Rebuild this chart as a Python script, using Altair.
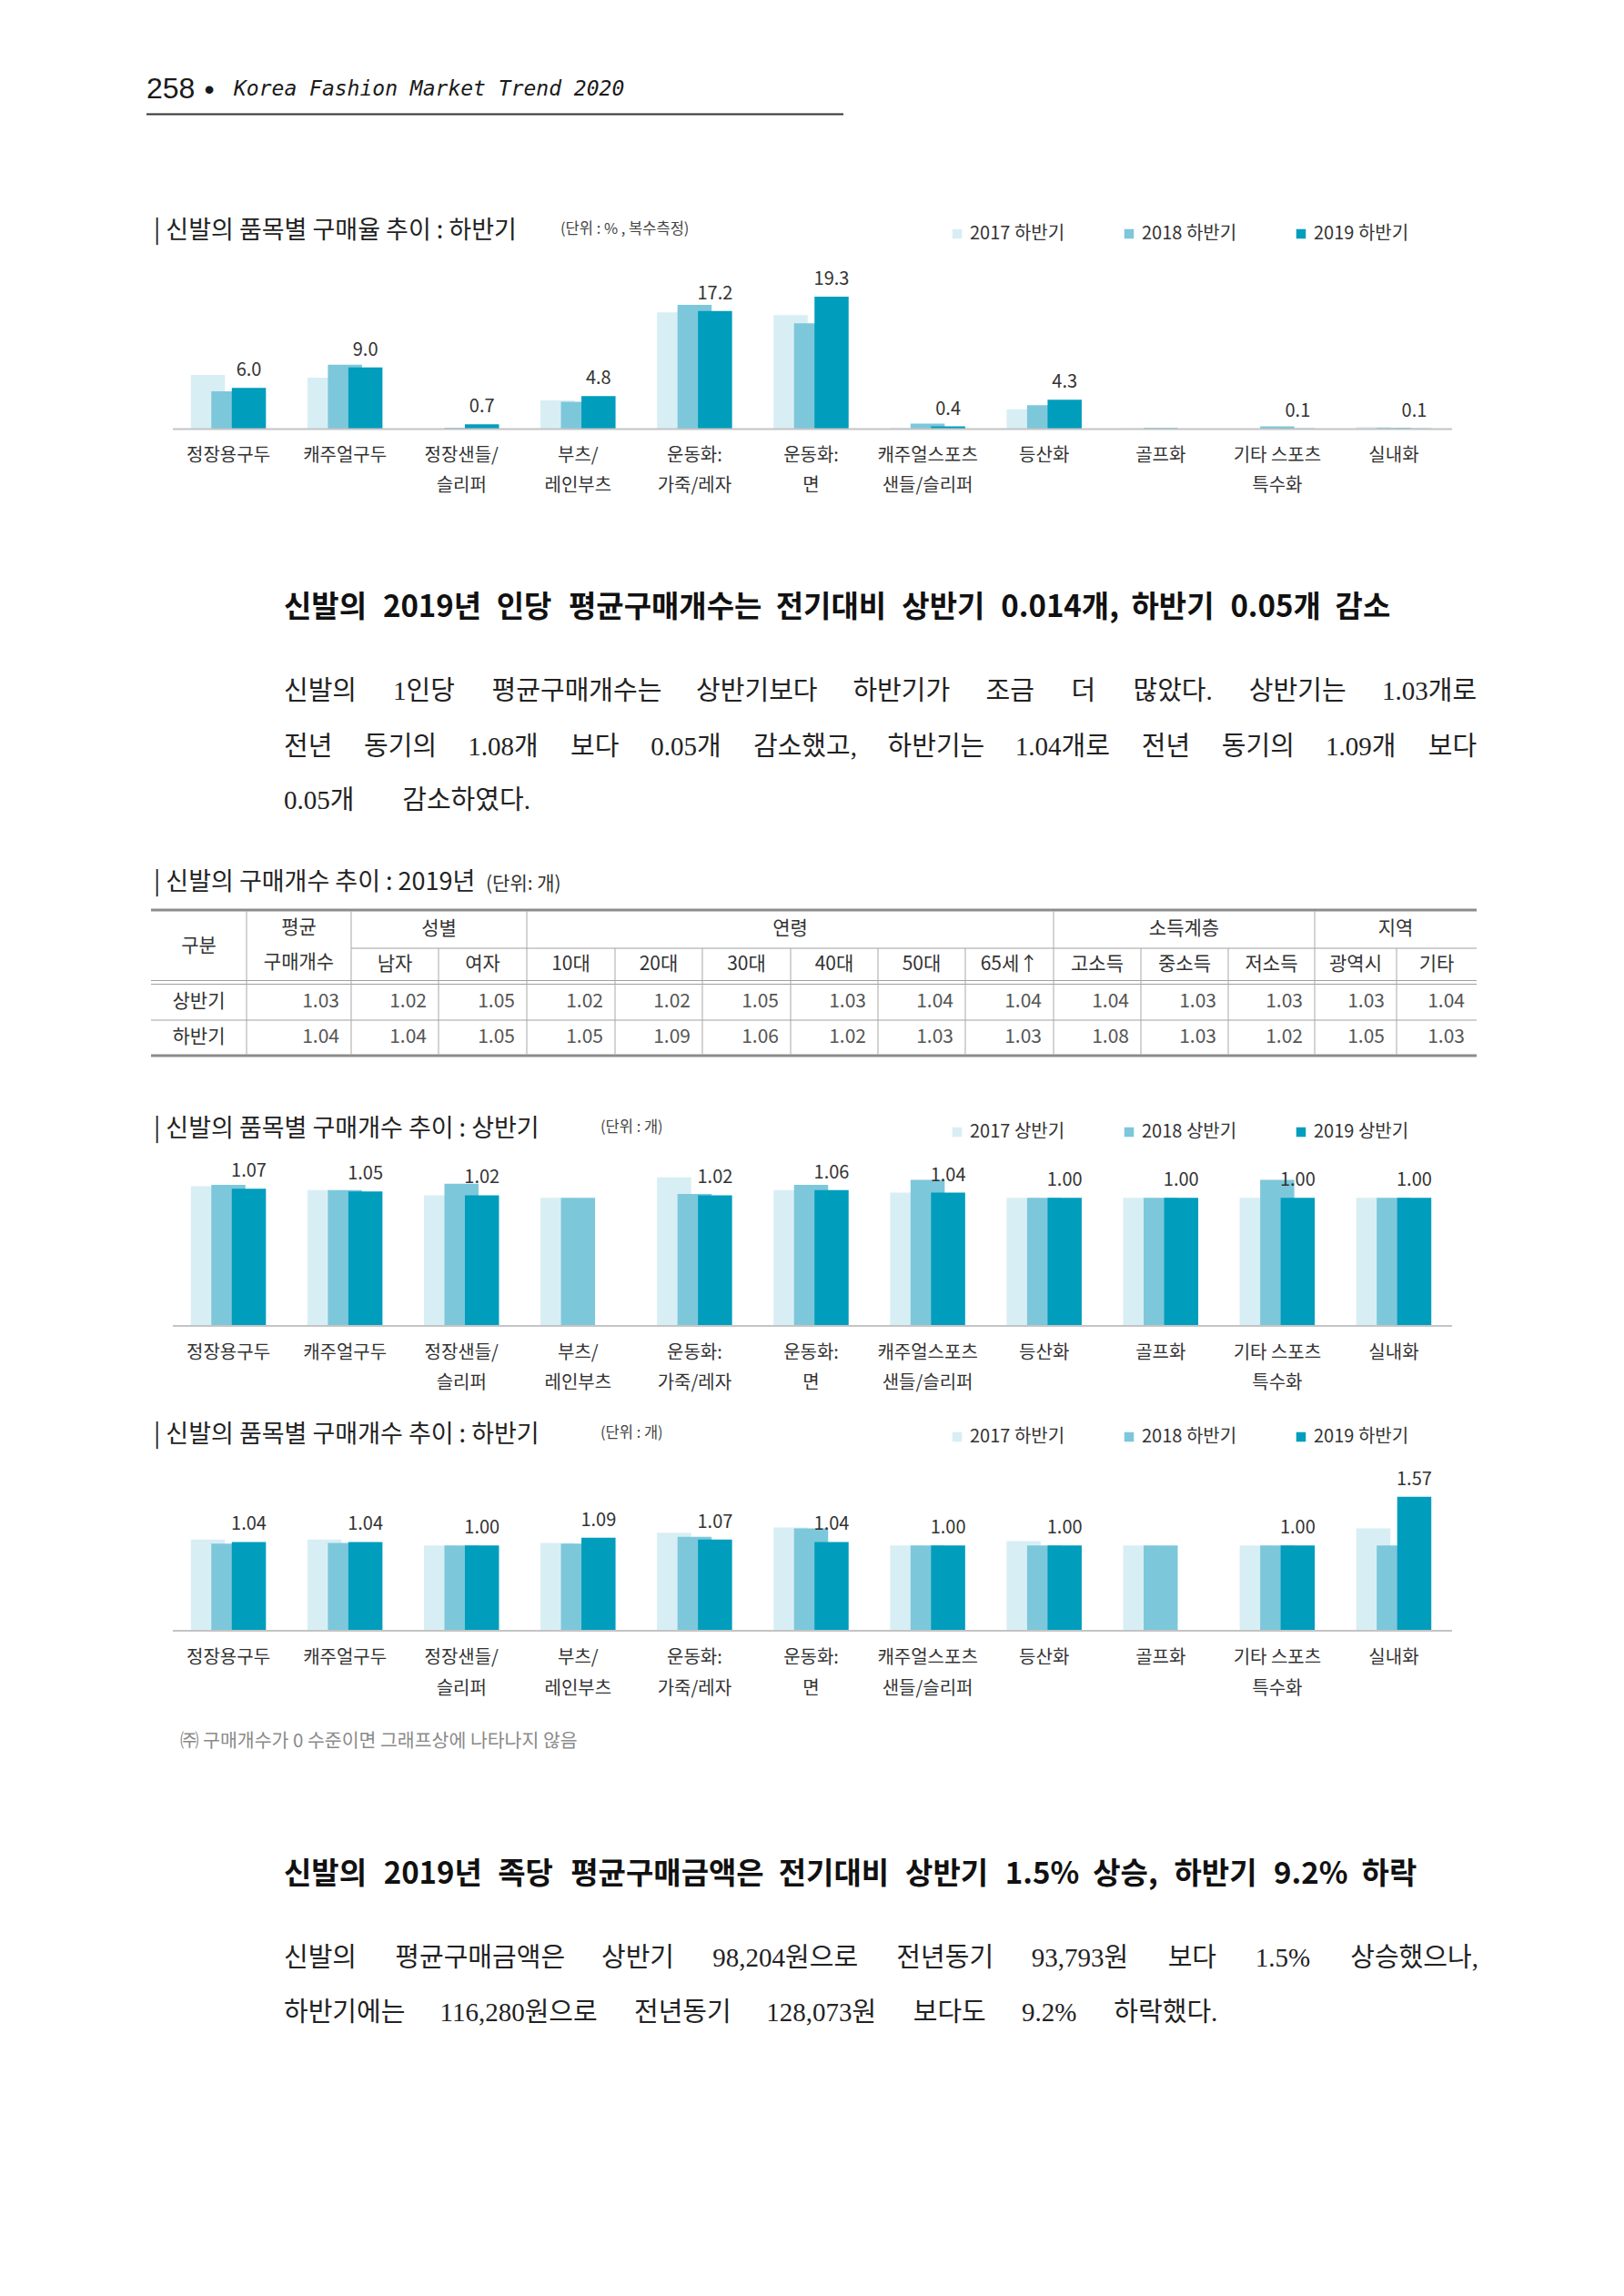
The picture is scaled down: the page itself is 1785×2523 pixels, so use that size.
import altair as alt
import pandas as pd

# ---------------- content ----------------
header_page = "258"
header_title = "Korea Fashion Market Trend 2020"

cat_line1 = ["정장용구두", "캐주얼구두", "정장샌들/", "부츠/", "운동화:", "운동화:",
             "캐주얼스포츠", "등산화", "골프화", "기타 스포츠", "실내화"]
cat_line2 = ["", "", "슬리퍼", "레인부츠", "가죽/레자", "면",
             "샌들/슬리퍼", "", "", "특수화", ""]
years = ["2017", "2018", "2019"]

# purchase rate (%), second half
rate_h2_2017 = [7.9, 7.5, 0.0, 4.2, 17.0, 16.6, 0.2, 2.9, 0.1, 0.0, 0.3]
rate_h2_2018 = [5.5, 9.4, 0.2, 4.0, 18.1, 15.4, 0.8, 3.5, 0.2, 0.4, 0.2]
rate_h2_2019 = [6.0, 9.0, 0.7, 4.8, 17.2, 19.3, 0.4, 4.3, 0.0, 0.1, 0.1]

# items bought per person, first half
cnt_h1_2017 = [1.09, 1.06, 1.02, 1.00, 1.16, 1.06, 1.04, 1.00, 1.00, 1.00, 1.00]
cnt_h1_2018 = [1.10, 1.06, 1.11, 1.00, 1.03, 1.10, 1.14, 1.00, 1.00, 1.14, 1.00]
cnt_h1_2019 = [1.07, 1.05, 1.02, 0.00, 1.02, 1.06, 1.04, 1.00, 1.00, 1.00, 1.00]

# items bought per person, second half
cnt_h2_2017 = [1.07, 1.07, 1.00, 1.03, 1.15, 1.21, 1.00, 1.05, 1.00, 1.00, 1.20]
cnt_h2_2018 = [1.02, 1.03, 1.00, 1.02, 1.10, 1.20, 1.00, 1.00, 1.00, 1.00, 1.00]
cnt_h2_2019 = [1.04, 1.04, 1.00, 1.09, 1.07, 1.04, 1.00, 1.00, 0.00, 1.00, 1.57]

# 2019 table
tbl_title = "| 신발의 구매개수 추이 : 2019년"
tbl_unit = "(단위: 개)"
tbl_groups = ["성별", "연령", "소득계층", "지역"]
tbl_group_span = [2, 6, 3, 2]
tbl_sub = ["남자", "여자", "10대", "20대", "30대", "40대", "50대", "65세↑",
           "고소득", "중소득", "저소득", "광역시", "기타"]
tbl_rows = ["상반기", "하반기"]
tbl_avg = [1.03, 1.04]
tbl_h1 = [1.02, 1.05, 1.02, 1.02, 1.05, 1.03, 1.04, 1.04, 1.04, 1.03, 1.03, 1.03, 1.04]
tbl_h2 = [1.04, 1.05, 1.05, 1.09, 1.06, 1.02, 1.03, 1.03, 1.08, 1.03, 1.02, 1.05, 1.03]

heading_1 = "신발의 2019년 인당 평균구매개수는 전기대비 상반기 0.014개, 하반기 0.05개 감소"
para_1 = ["신발의 1인당 평균구매개수는 상반기보다 하반기가 조금 더 많았다. 상반기는 1.03개로",
          "전년 동기의 1.08개 보다 0.05개 감소했고, 하반기는 1.04개로 전년 동기의 1.09개 보다",
          "0.05개 감소하였다."]
heading_2 = "신발의 2019년 족당 평균구매금액은 전기대비 상반기 1.5% 상승, 하반기 9.2% 하락"
para_2 = ["신발의 평균구매금액은 상반기 98,204원으로 전년동기 93,793원 보다 1.5% 상승했으나,",
          "하반기에는 116,280원으로 전년동기 128,073원 보다도 9.2% 하락했다."]
footnote = "㈜ 구매개수가 0 수준이면 그래프상에 나타나지 않음"

# ---------------- styling / layout ----------------
FONT = "Noto Sans CJK KR"
SERIF = "Liberation Serif, Noto Sans CJK KR"
PAGE_W, PAGE_H = 1785, 2523
SERIES_COLORS = ["#d8eef5", "#7dc7db", "#009dbd"]
BAND_X0, BAND_X1 = 187, 1596
BAR_W, BAR_SHIFT = 37.5, 22.5
STEP = (BAND_X1 - BAND_X0) / len(cat_line1)
OFFSET_RANGE = [STEP / 2 - 1.5 * BAR_SHIFT, STEP / 2 + 1.5 * BAR_SHIFT]

HEAD_SIZE = 33
BODY_SIZE = 29
TITLE_SIZE = 27

panels = [
    dict(title="| 신발의 품목별 구매율 추이 : 하반기", unit="(단위 : % , 복수측정)", half="하반기",
         values=[rate_h2_2017, rate_h2_2018, rate_h2_2019], fmt=".1f", dmax=20,
         title_y=254, unit_x=616, legend_cy=257, base=471.6, ppu=7.55, lab1=500.6, lab2=534.4),
    dict(title="| 신발의 품목별 구매개수 추이 : 상반기", unit="(단위 : 개)", half="상반기",
         values=[cnt_h1_2017, cnt_h1_2018, cnt_h1_2019], fmt=".2f", dmax=1.2,
         title_y=1241, unit_x=660, legend_cy=1244, base=1457, ppu=140.8, lab1=1487, lab2=1520),
    dict(title="| 신발의 품목별 구매개수 추이 : 하반기", unit="(단위 : 개)", half="하반기",
         values=[cnt_h2_2017, cnt_h2_2018, cnt_h2_2019], fmt=".2f", dmax=1.7,
         title_y=1577, unit_x=660, legend_cy=1579, base=1792, ppu=93.8, lab1=1822, lab2=1856),
]

COL_EDGES = [166, 271, 386, 482, 579, 676, 772, 869, 965, 1061, 1158, 1254, 1350, 1445, 1535, 1623]

# approximate advance widths (in em) used to spread words across a line
HANGUL_EM = 0.9
LATIN_EM = {
    "serif": {"digit": 0.5, ".": 0.25, ",": 0.25, "%": 0.833, "other": 0.5},
    "sans_bold": {"digit": 0.57, ".": 0.28, ",": 0.28, "%": 0.88, "other": 0.55},
}


def glyph_em(ch, latin):
    if "\uac00" <= ch <= "\ud7a3":
        return HANGUL_EM
    t = LATIN_EM[latin]
    if ch.isdigit():
        return t["digit"]
    return t.get(ch, t["other"])


def justify(line, left, right, y, size, latin):
    """Spread the words of one line between left and right."""
    words = line.split(" ")
    widths = [sum(glyph_em(c, latin) for c in w) * size for w in words]
    gap = (right - left - sum(widths)) / max(len(words) - 1, 1)
    rows, x = [], left
    for w, wd in zip(words, widths):
        rows.append({"text": w, "x": x, "y": y})
        x += wd + gap
    return rows


def text_layer(rows, size, font=FONT, weight="normal", color="#222222",
               align="left", style="normal", baseline="middle"):
    return alt.Chart(pd.DataFrame(rows)).mark_text(
        font=font, fontSize=size, fontWeight=weight, color=color,
        align=align, baseline=baseline, fontStyle=style,
    ).encode(
        x=alt.X("x:Q", scale=None, axis=None),
        y=alt.Y("y:Q", scale=None, axis=None),
        text="text:N",
    )


def bar_panel(p):
    series = [f"{y} {p['half']}" for y in years]
    keys = [f"{a}|{b}" for a, b in zip(cat_line1, cat_line2)]
    rows = []
    for s, vals in zip(series, p["values"]):
        for k, v in zip(keys, vals):
            rows.append({"cat": k, "series": s, "value": v})
    df = pd.DataFrame(rows)

    x_enc = alt.X("cat:N", sort=keys, axis=None,
                  scale=alt.Scale(domain=keys, range=[BAND_X0, BAND_X1],
                                  paddingInner=0, paddingOuter=0))
    xo_enc = alt.XOffset("series:N", sort=series,
                         scale=alt.Scale(domain=series, range=OFFSET_RANGE,
                                         paddingInner=0, paddingOuter=0))
    yscale = alt.Scale(domain=[0, p["dmax"]], nice=False, zero=True,
                       range=[p["base"], p["base"] - p["dmax"] * p["ppu"]])
    color_enc = alt.Color(
        "series:N", sort=series,
        scale=alt.Scale(domain=series, range=SERIES_COLORS),
        legend=alt.Legend(orient="none", legendX=1042, legendY=p["legend_cy"] - 10,
                          direction="horizontal", title=None, symbolType="square",
                          symbolSize=110, symbolStrokeWidth=0, labelFont=FONT,
                          labelFontSize=20, labelColor="#333333", labelOffset=4,
                          columnPadding=60, padding=0),
    )

    bars = alt.Chart(df).mark_bar(width=BAR_W).encode(
        x=x_enc, xOffset=xo_enc, y=alt.Y("value:Q", scale=yscale, axis=None), color=color_enc)

    values = alt.Chart(df).transform_filter(
        (alt.datum.series == series[2]) & (alt.datum.value > 0)
    ).mark_text(font=FONT, fontSize=20, color="#333333", baseline="alphabetic", dy=-13).encode(
        x=x_enc, xOffset=xo_enc, y=alt.Y("value:Q", scale=yscale, axis=None),
        text=alt.Text("value:Q", format=p["fmt"]))

    cat_df = pd.DataFrame({"cat": keys, "l1": cat_line1, "l2": cat_line2})
    lab1 = alt.Chart(cat_df).mark_text(font=FONT, fontSize=20, color="#333333",
                                       baseline="middle").encode(
        x=x_enc, y=alt.value(p["lab1"]), text="l1:N")
    lab2 = alt.Chart(cat_df).mark_text(font=FONT, fontSize=20, color="#333333",
                                       baseline="middle").encode(
        x=x_enc, y=alt.value(p["lab2"]), text="l2:N")

    base_rule = alt.Chart(pd.DataFrame({"zero": [0]})).mark_rule(
        color="#c4c4c4", strokeWidth=2).encode(
        x=alt.value(BAND_X0 + 3), x2=alt.value(BAND_X1),
        y=alt.Y("zero:Q", scale=yscale, axis=None))

    return alt.layer(bars, values, lab1, lab2, base_rule)


layers = []

# page header
layers.append(text_layer([{"text": header_page, "x": 161, "y": 98}], 32,
                         font="Liberation Sans", color="#1a1a1a"))
layers.append(text_layer([{"text": "•", "x": 230, "y": 99}], 32, font="Liberation Sans",
                         color="#1a1a1a", align="center"))
layers.append(text_layer([{"text": header_title, "x": 257, "y": 98}], 23,
                         font="DejaVu Sans Mono", style="italic", color="#1a1a1a"))

# panel titles and units
layers.append(text_layer([{"text": p["title"], "x": 169, "y": p["title_y"]} for p in panels]
                         + [{"text": tbl_title, "x": 169, "y": 970}], TITLE_SIZE, color="#222222"))
layers.append(text_layer([{"text": p["unit"], "x": p["unit_x"], "y": p["title_y"] - 2} for p in panels],
                         16.5, color="#444444"))
layers.append(text_layer([{"text": tbl_unit, "x": 534, "y": 972}], 21, color="#333333"))
layers.append(text_layer([{"text": footnote, "x": 198, "y": 1914}], 20.5, color="#8a8a8a"))

# headings and body text
head_rows = (justify(heading_1, 312, 1527, 668, HEAD_SIZE, "sans_bold")
             + justify(heading_2, 312, 1556, 2060, HEAD_SIZE, "sans_bold"))
layers.append(text_layer(head_rows, HEAD_SIZE, weight="bold", color="#111111"))

para_rows = []
for line, right, y in zip(para_1, [1622, 1622, 580], [760, 821, 880]):
    para_rows += justify(line, 312, right, y, BODY_SIZE, "serif")
for line, right, y in zip(para_2, [1622, 1336], [2152, 2211.5]):
    para_rows += justify(line, 312, right, y, BODY_SIZE, "serif")
layers.append(text_layer(para_rows, BODY_SIZE, font=SERIF, color="#222222"))

# rules: page header line and table grid
rule_rows = [dict(x=161, x2=927, y=125.5, y2=125.5, w=2, c="#333333")]
T_LEFT, T_RIGHT = COL_EDGES[0], COL_EDGES[-1]
for y, w in [(1000, 3), (1160, 3)]:
    rule_rows.append(dict(x=T_LEFT, x2=T_RIGHT, y=y, y2=y, w=w, c="#8c8c8c"))
for y in [1077.5, 1081.5, 1121]:
    rule_rows.append(dict(x=T_LEFT, x2=T_RIGHT, y=y, y2=y, w=1, c="#a0a0a0"))
rule_rows.append(dict(x=COL_EDGES[2], x2=T_RIGHT, y=1042, y2=1042, w=1, c="#a0a0a0"))
group_edges = [2]
for span in tbl_group_span:
    group_edges.append(group_edges[-1] + span)
for i in range(1, len(COL_EDGES) - 1):
    top = 1001.5 if (i <= 2 or i in group_edges) else 1042
    rule_rows.append(dict(x=COL_EDGES[i], x2=COL_EDGES[i], y=top, y2=1158.5, w=1, c="#a8a8a8"))
layers.append(alt.Chart(pd.DataFrame(rule_rows)).mark_rule().encode(
    x=alt.X("x:Q", scale=None, axis=None), x2="x2:Q",
    y=alt.Y("y:Q", scale=None, axis=None), y2="y2:Q",
    strokeWidth=alt.StrokeWidth("w:Q", scale=None, legend=None),
    color=alt.Color("c:N", scale=None, legend=None)))


# table header and row labels
def mid(a, b):
    return (COL_EDGES[a] + COL_EDGES[b]) / 2


thead = [{"text": "구분", "x": mid(0, 1), "y": 1040},
         {"text": "평균", "x": mid(1, 2), "y": 1020},
         {"text": "구매개수", "x": mid(1, 2), "y": 1058}]
for g, a, b in zip(tbl_groups, group_edges[:-1], group_edges[1:]):
    thead.append({"text": g, "x": mid(a, b), "y": 1021})
for j, s in enumerate(tbl_sub):
    thead.append({"text": s, "x": mid(j + 2, j + 3), "y": 1060})
for r, y in zip(tbl_rows, [1101, 1140]):
    thead.append({"text": r, "x": mid(0, 1), "y": y})
layers.append(text_layer(thead, 21, color="#333333", align="center"))

tcells = []
for avg, vals, y in zip(tbl_avg, [tbl_h1, tbl_h2], [1101, 1140]):
    for j, v in enumerate([avg] + vals):
        tcells.append({"text": f"{v:.2f}", "x": COL_EDGES[j + 2] - 13, "y": y})
layers.append(text_layer(tcells, 21, color="#555555", align="right"))

# bar panels
for p in panels:
    layers.append(bar_panel(p))

chart = alt.layer(*layers).resolve_scale(
    x="independent", y="independent", color="independent", xOffset="independent"
).properties(
    width=PAGE_W, height=PAGE_H, padding=0,
    autosize=alt.AutoSizeParams(type="none"), background="white",
).configure_view(stroke=None)

chart.save("out.html", embed_options={"renderer": "svg", "actions": False})
